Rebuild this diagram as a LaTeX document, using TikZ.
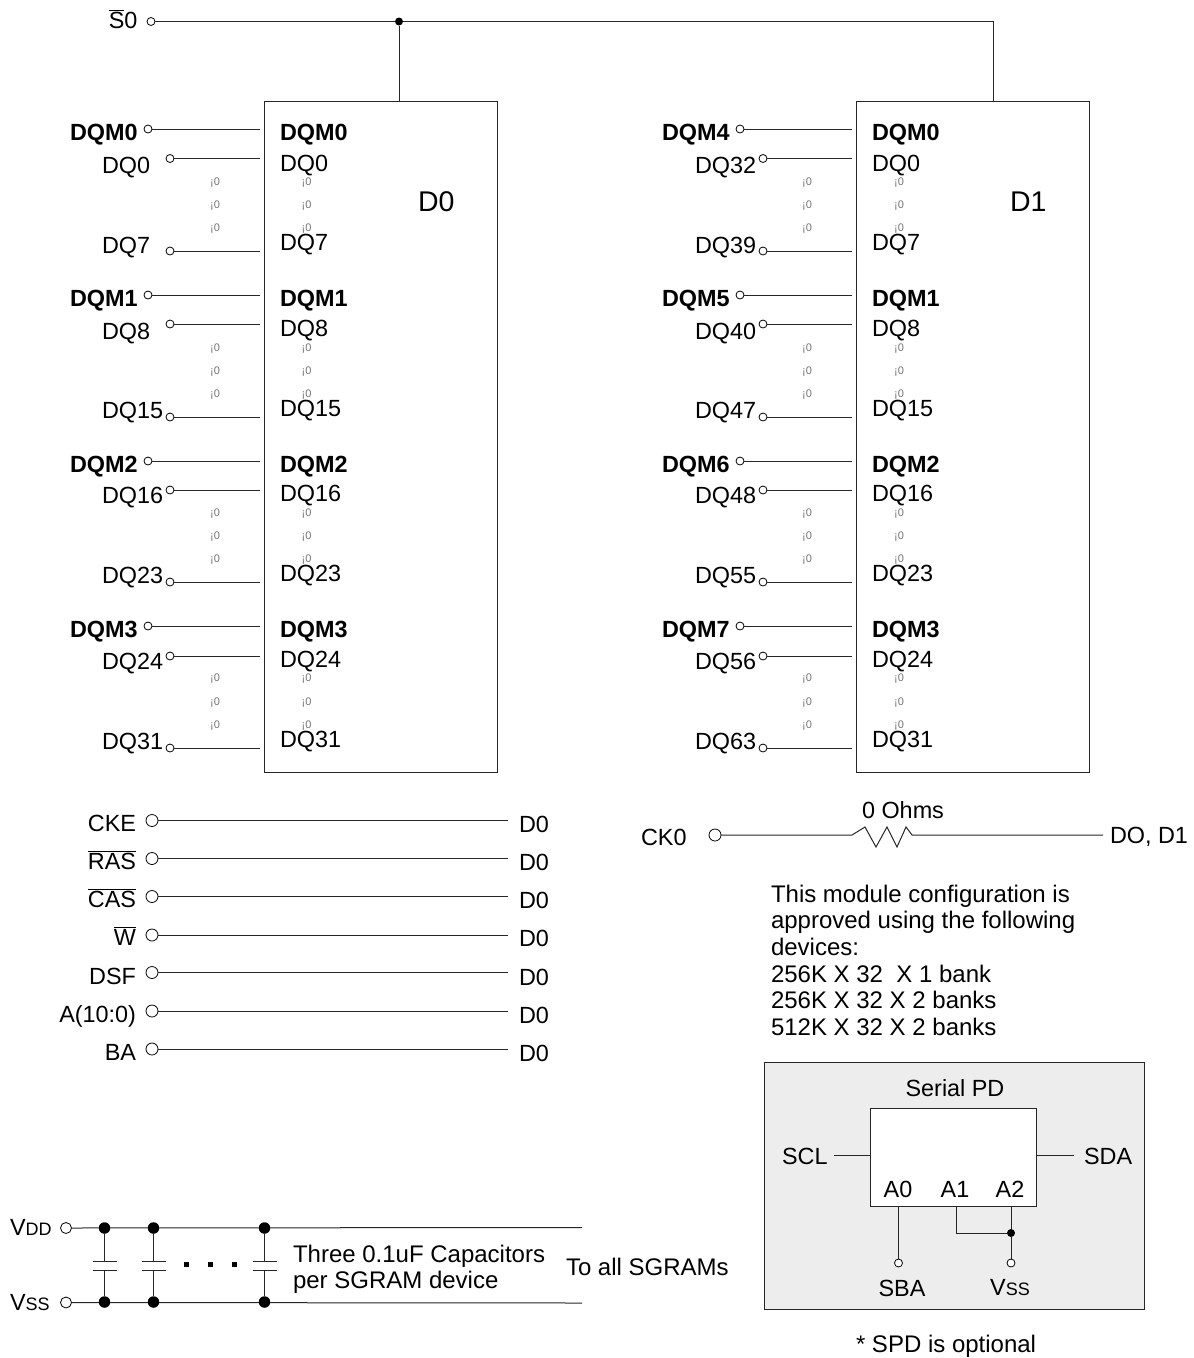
\documentclass[tikz,border=0pt]{standalone}
\usepackage{fontspec}
\setmainfont{Liberation Sans}
\newcommand\ovl[1]{\leavevmode\vbox{\hrule height 1.4pt \kern 0.6pt \hbox{#1}}}
\newcommand\smc[1]{{\fontsize{18}{20}\selectfont #1}}
\tikzset{
  x=1pt,y=-1pt,
  every node/.style={inner sep=0pt,outer sep=0pt},
  lab/.style={font=\fontsize{23.4}{26}\selectfont,anchor=base west},
  note/.style={font=\fontsize{24}{26}\selectfont,anchor=base west},
  labr/.style={font=\fontsize{23.4}{26}\selectfont,anchor=base east},
  labc/.style={font=\fontsize{23.4}{26}\selectfont,anchor=base},
  blab/.style={font=\fontsize{23.4}{26}\selectfont\bfseries,anchor=base west},
  big/.style={font=\fontsize{28.5}{30}\selectfont,anchor=base west},
  tiny dot/.style={font=\fontsize{11}{12}\selectfont,text=black!55,anchor=center},
  term/.style={circle,draw=black,fill=white,line width=0.8pt,minimum size=8pt},
  bigterm/.style={circle,draw=black,fill=white,line width=0.8pt,minimum size=11pt},
  joint/.style={circle,fill=black,minimum size=8pt},
  bigjoint/.style={circle,fill=black,minimum size=11.5pt},
  wire/.style={draw=black!85,line width=1pt},
  chip/.style={draw=black!85,line width=1pt,fill=white,rectangle,anchor=north west},
}
\begin{document}
\begin{tikzpicture}
\useasboundingbox (0,0) rectangle (1194,1358);

% memory chips
\node[chip,minimum width=233pt,minimum height=671pt] (D0box) at (264,101) {};
\node[chip,minimum width=233pt,minimum height=671pt] (D1box) at (856,101) {};
\node[big] (D0lab) at (418,211) {D0};
\node[big] (D1lab) at (1010,211) {D1};

% chip select
\node[labr] (S0lab) at (137.5,28) {\ovl{S}0};
\node[term] (S0) at (151,21.5) {};
\node[joint] (S0j) at (399,21.5) {};
\coordinate (S0c) at (993.5,21.5);
\draw[wire] (S0) -- (S0j) -- (S0c) -- (S0c |- D1box.north);
\draw[wire] (S0j) -- (S0j |- D0box.north);

% left (chip D0) pins: name / y / label / label baseline
\foreach \n/\y/\t/\b/\ib/\it in {
  a/129/DQM0/140/140/DQM0, e/295/DQM1/306/306/DQM1, i/461/DQM2/472/472/DQM2, m/626/DQM3/637/637/DQM3}{
  \node[blab] (l\n) at (70,\b) {\t};
  \node[term] (p\n) at (148,\y) {};
  \coordinate (c\n) at (260,\y);
  \draw[wire] (p\n) -- (c\n);
  \node[blab] (il\n) at (280,\ib) {\it};
}
\foreach \n/\y/\t/\b/\ib/\it in {
  b/158.5/DQ0/173/171/DQ0, c/251/DQ7/253/250/DQ7,
  f/324/DQ8/339/336/DQ8, g/417/DQ15/418/416/DQ15,
  j/490/DQ16/503/501/DQ16, k/582/DQ23/583/581/DQ23,
  n/656/DQ24/669/667/DQ24, o/748/DQ31/749/747/DQ31}{
  \node[lab] (l\n) at (102,\b) {\t};
  \node[term] (p\n) at (170,\y) {};
  \coordinate (c\n) at (260,\y);
  \draw[wire] (p\n) -- (c\n);
  \node[lab] (il\n) at (280,\ib) {\it};
}
% right (chip D1) pins
\foreach \n/\y/\t/\b/\it in {
  a/129/DQM4/140/DQM0, e/295/DQM5/306/DQM1, i/461/DQM6/472/DQM2, m/626/DQM7/637/DQM3}{
  \node[blab] (rl\n) at (662,\b) {\t};
  \node[term] (rp\n) at (740,\y) {};
  \coordinate (rc\n) at (852,\y);
  \draw[wire] (rp\n) -- (rc\n);
  \node[blab] (ril\n) at (872,\b) {\it};
}
\foreach \n/\y/\t/\b/\ib/\it in {
  b/158.5/DQ32/173/171/DQ0, c/251/DQ39/253/250/DQ7,
  f/324/DQ40/339/336/DQ8, g/417/DQ47/418/416/DQ15,
  j/490/DQ48/503/501/DQ16, k/582/DQ55/583/581/DQ23,
  n/656/DQ56/669/667/DQ24, o/748/DQ63/749/747/DQ31}{
  \node[lab] (rl\n) at (695,\b) {\t};
  \node[term] (rp\n) at (763,\y) {};
  \coordinate (rc\n) at (852,\y);
  \draw[wire] (rp\n) -- (rc\n);
  \node[lab] (ril\n) at (872,\ib) {\it};
}
% small marks
\foreach \xa/\xn in {215/A,306.5/B,807/C,899/D}{
  \foreach \ya/\yn in {183/a,206/b,229/c,349/d,372/e,395/f,514/g,537/h,560/i,679/j,703/k,726/l}{
    \node[tiny dot] (m\xn\yn) at (\xa,\ya) {¡0};
  }
}

% control signals
\foreach \n/\y/\t/\b in {
  cke/820.5/CKE/831, ras/858.5/\ovl{RAS}/869, cas/896.5/\ovl{CAS}/907, we/935/\ovl{W}/945,
  dsf/972.5/DSF/984, addr/1011/A(10:0)/1022, ba/1049/BA/1060}{
  \node[labr] (t\n) at (136,\b) {\t};
  \node[bigterm,minimum size=12pt] (q\n) at (152,\y) {};
  \coordinate (e\n) at (508,\y);
  \draw[wire] (q\n) -- (e\n);
  \node[lab] (d\n) at (519,\b+1) {D0};
}

% clock
\node[lab] (CKlab) at (641,845) {CK0};
\node[bigterm,minimum size=12pt] (CK) at (715,835) {};
\coordinate (r0) at (852,835);
\coordinate (r1) at (912,835);
\coordinate (CKe) at (1103,835);
\draw[wire] (CK) -- (r0) -- ++(13,-8) -- ++(11,20) -- ++(11,-20) -- ++(10,20) -- ++(9,-20) -- (r1) -- (CKe);
\node[labc] (ohm) at (903,818) {0 Ohms};
\node[lab] (CKout) at (1110,843) {DO, D1};

% note
\node[note] (n1) at (771,902) {This module configuration is};
\node[note] (n2) at (771,928) {approved using the following};
\node[note] (n3) at (771,955) {devices:};
\node[note] (n4) at (771,982) {256K X 32\ \ X 1 bank};
\node[note] (n5) at (771,1008) {256K X 32 X 2 banks};
\node[note] (n6) at (771,1035) {512K X 32 X 2 banks};

% serial PD
\node[chip,fill=black!7,minimum width=380pt,minimum height=247pt] (spd) at (764,1062) {};
\node[chip,minimum width=166pt,minimum height=98pt] (pd) at (870,1108) {};
\node[labc] (pdt) at (955,1096) {Serial PD};
\node[lab] (scl) at (782,1164) {SCL};
\coordinate (scle) at (834,1155.5);
\draw[wire,line width=0.8pt] (scle) -- (scle -| pd.west);
\node[lab] (sda) at (1084,1164) {SDA};
\coordinate (sdae) at (1074,1155.5);
\draw[wire,line width=0.8pt] (sdae -| pd.east) -- (sdae);
\node[labc] (a0) at (898,1197) {A0};
\node[labc] (a1) at (955,1197) {A1};
\node[labc] (a2) at (1010,1197) {A2};
\node[term] (sbap) at (898.5,1263) {};
\node[term] (vssp) at (1011,1263) {};
\node[joint] (vj) at (1011,1233) {};
\coordinate (a0b) at (898.5,1206);
\coordinate (a1b) at (956,1206);
\coordinate (a2b) at (1011,1206);
\draw[wire] (a0b) -- (sbap);
\draw[wire] (a2b) -- (vj) -- (vssp);
\draw[wire] (a1b) -- (a1b |- vj) -- (vj);
\node[labc] (sba) at (902,1296) {SBA};
\node[labc] (vssl) at (1010,1295) {V\smc{SS}};
\node[note] (spdn) at (856,1352) {* SPD is optional};

% decoupling
\node[lab] (vdd) at (10,1235) {V\smc{DD}};
\node[lab] (vss) at (10,1310) {V\smc{SS}};
\node[bigterm] (vddp) at (66,1228) {};
\node[bigterm] (vssq) at (66,1302.5) {};
\coordinate (vdde) at (582,1227.5);
\coordinate (vsse) at (582,1303);
\draw[wire] (vddp) -- (vdde);
\draw[wire] (vssq) -- (vsse);
\foreach \n/\x in {a/104.5,b/153.5,c/264.5}{
  \node[bigjoint] (cu\n) at (\x,1228) {};
  \node[bigjoint] (cl\n) at (\x,1302) {};
  \coordinate (pu\n) at (\x,1261);
  \coordinate (pl\n) at (\x,1270);
  \draw[wire] (cu\n) -- (pu\n);
  \draw[wire] (pl\n) -- (cl\n);
  \draw[wire] ([xshift=-12pt]pu\n) -- ([xshift=12pt]pu\n);
  \draw[wire] ([xshift=-12pt]pl\n) -- ([xshift=12pt]pl\n);
}
\foreach \n/\x in {a/186,b/210,c/234}{
  \node[rectangle,fill=black,minimum size=5pt] (sq\n) at (\x,1264.5) {};
}
\node[note] (c1) at (293,1262) {Three 0.1uF Capacitors};
\node[note] (c2) at (293,1288) {per SGRAM device};
\node[note] (c3) at (566,1275) {To all SGRAMs};
\end{tikzpicture}
\end{document}
